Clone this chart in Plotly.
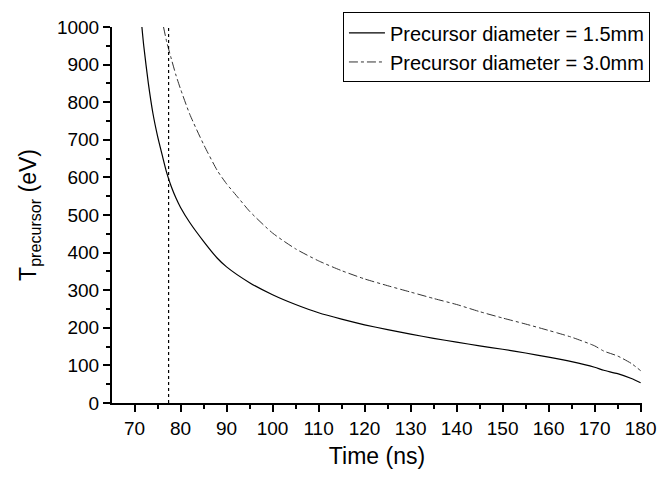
import plotly.graph_objects as go

# Precursor temperature vs time for two precursor diameters
time_d15 = [71.6, 72, 73, 74, 75, 76, 77, 78, 79, 80, 82, 85, 88, 90, 95, 100,
            105, 110, 115, 120, 125, 130, 135, 140, 145, 150, 155, 160, 165,
            170, 172, 175, 178, 180]
temp_d15 = [1000, 950, 850, 770, 710, 660, 612, 575, 545, 520, 480, 430, 385,
            362, 320, 288, 262, 240, 223, 208, 195, 183, 172, 162, 152, 143,
            133, 122, 110, 95, 87, 78, 65, 54]

time_d30 = [76.3, 77, 78, 79, 80, 82, 85, 88, 90, 92.6, 95, 100, 105, 110, 115,
            120, 125, 130, 135, 140, 145, 150, 155, 160, 162, 165, 170, 172,
            175, 178, 180]
temp_d30 = [1000, 960, 915, 872, 835, 768, 688, 618, 583, 545, 510, 452, 410,
            378, 352, 330, 312, 295, 278, 262, 243, 226, 210, 193, 186, 175,
            152, 138, 125, 105, 86]

# Vertical marker time
marker_time = [77.4, 77.4]
marker_temp = [0, 1000]

font_family = "Arial, Liberation Sans, sans-serif"

fig = go.Figure()
fig.add_trace(go.Scatter(
    x=time_d15, y=temp_d15, mode="lines",
    name="Precursor diameter = 1.5mm",
    line=dict(color="black", width=1.2, shape="spline", smoothing=0.6),
))
fig.add_trace(go.Scatter(
    x=time_d30, y=temp_d30, mode="lines",
    name="Precursor diameter = 3.0mm",
    line=dict(color="#333333", width=1, dash="dashdot", shape="spline", smoothing=0.6),
))
fig.add_trace(go.Scatter(
    x=marker_time, y=marker_temp, mode="lines", showlegend=False,
    line=dict(color="black", width=1.2, dash="dot"),
))

fig.update_layout(
    width=670, height=477,
    margin=dict(l=112, r=28, t=19, b=72),
    paper_bgcolor="white", plot_bgcolor="white",
    font=dict(family=font_family, size=19, color="black"),
    showlegend=True,
    legend=dict(
        x=1.015, y=0.9456, xanchor="right", yanchor="middle",
        bgcolor="white", bordercolor="black", borderwidth=1,
        font=dict(size=20), itemwidth=36,
        entrywidth=268, entrywidthmode="pixels",
    ),
)

fig.update_xaxes(
    range=[65.1, 180.3], tickvals=list(range(70, 181, 10)),
    showgrid=False, zeroline=False, showline=True, linecolor="black", linewidth=2,
    ticks="outside", ticklen=7, tickwidth=2, tickcolor="black",
    minor=dict(ticks="outside", ticklen=4, tickwidth=1.5, tickcolor="black", dtick=5, tick0=65),
    title=dict(text="Time (ns)", font=dict(size=23), standoff=10),
    tickfont=dict(size=19),
)
fig.update_yaxes(
    range=[0, 1000], tickvals=list(range(0, 1001, 100)),
    showgrid=False, zeroline=False, showline=True, linecolor="black", linewidth=2,
    ticks="outside", ticklen=7, tickwidth=2, tickcolor="black",
    minor=dict(ticks="outside", ticklen=4, tickwidth=1.5, tickcolor="black", dtick=50, tick0=0),
    title=dict(text="T<sub>precursor</sub> (eV)", font=dict(size=23), standoff=14),
    tickfont=dict(size=19),
)

fig.write_html("out.html")
